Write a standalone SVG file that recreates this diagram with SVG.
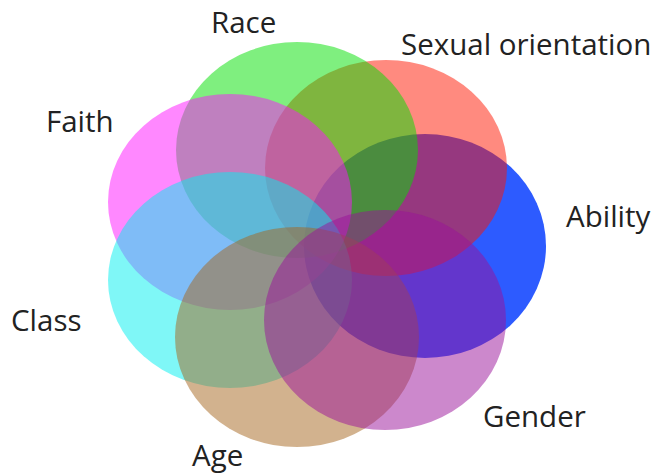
<svg xmlns="http://www.w3.org/2000/svg" width="658" height="474" viewBox="0 0 658 474">
<style>
.lbl{font-family:"Open Sans","Liberation Sans",sans-serif;font-size:29.5px;fill:#222}
.e{stroke:none}
</style>
<rect width="658" height="474" fill="#ffffff"/>
<g id="ability"><ellipse class="e" cx="425" cy="246" rx="121" ry="112" fill="#2d5bff"/><text class="lbl" x="566" y="227">Ability</text></g>
<g id="sexual-orientation"><ellipse class="e" cx="386" cy="168" rx="121" ry="108" fill="#ff1500" fill-opacity="0.5"/><text class="lbl" x="401" y="55">Sexual orientation</text></g>
<g id="race"><ellipse class="e" cx="297" cy="150" rx="121" ry="108" fill="#00e000" fill-opacity="0.5"/><text class="lbl" x="211" y="33">Race</text></g>
<g id="faith"><ellipse class="e" cx="230" cy="202" rx="122" ry="108" fill="#ff11ff" fill-opacity="0.5"/><text class="lbl" x="46" y="132">Faith</text></g>
<g id="class"><ellipse class="e" cx="230" cy="280" rx="122" ry="108" fill="#00f0f0" fill-opacity="0.5"/><text class="lbl" x="11" y="331">Class</text></g>
<g id="age"><ellipse class="e" cx="297" cy="337" rx="122" ry="110" fill="#a5651d" fill-opacity="0.5"/><text class="lbl" x="192" y="466">Age</text></g>
<g id="gender"><ellipse class="e" cx="385" cy="320" rx="121" ry="110" fill="#991199" fill-opacity="0.5"/><text class="lbl" x="483" y="427">Gender</text></g>
<g id="connectors"></g>
</svg>
